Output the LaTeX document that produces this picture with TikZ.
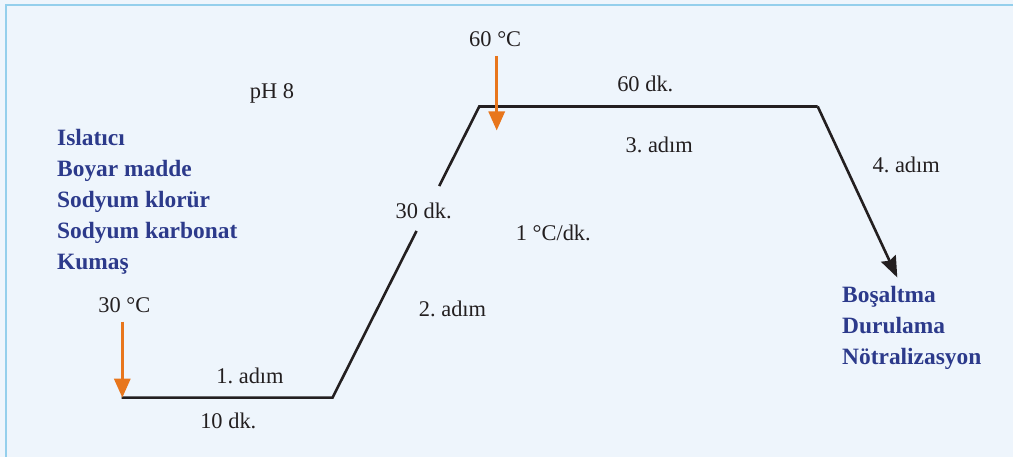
\documentclass[tikz,border=0pt]{standalone}
\usepackage{fontspec}
\setmainfont{Liberation Serif}
\usetikzlibrary{arrows.meta, positioning}
\definecolor{bgblue}{HTML}{EEF5FC}
\definecolor{frameblue}{HTML}{94CFEC}
\definecolor{inkblue}{HTML}{2C3A8B}
\definecolor{heatorange}{HTML}{E8761C}
\definecolor{ink}{HTML}{231F20}
\tikzstyle{txt} = [text=ink, font=\fontsize{22.5}{27}\selectfont, inner sep=0pt, anchor=base]
\tikzstyle{chem} = [text=inkblue, font=\bfseries\fontsize{23.5}{31}\selectfont, align=left, anchor=north west, inner sep=0pt]
\tikzstyle{profile} = [draw=ink, line width=2.6bp]
\tikzstyle{heat} = [draw=heatorange, line width=3bp, -{Triangle[length=19bp,width=16bp]}]
\tikzstyle{drain} = [profile, -{Stealth[length=21bp,width=16bp,inset=2.5bp]}]

\begin{document}
\frenchspacing
\begin{tikzpicture}[x=1bp, y=-1bp]
\useasboundingbox (0,0) rectangle (1013,457);
\fill[bgblue] (0,0) rectangle (1013,457);
\draw[frameblue, line width=2bp] (1013,5.5) -- (5.5,5.5) -- (5.5,457);

% --------- temperature profile ----------
\coordinate (s1) at (121.5,397.7);
\coordinate (e1) at (332.5,397.7);
\coordinate (g1) at (416.5,231);
\coordinate (g2) at (439.2,186);
\coordinate (s3) at (479.3,106.5);
\coordinate (e3) at (817.7,106.5);
\coordinate (e4) at (897.3,277.5);

\draw [profile] (s1) -- (e1) -- (g1);
\draw [profile] (g2) -- (s3) -- (e3);
\draw [drain] (e3) -- (e4);

% --------- dosing ----------
\coordinate (d30) at (122.3,321.7);
\coordinate (d60) at (496.7,56);
\coordinate (d60end) at (496.7,130.5);
\draw [heat] (d30) -- (d30 |- s1);
\draw [heat] (d60) -- (d60end);

% --------- labels ----------
\node (T30)   [txt] at (124.3,312.3) {30 °C};
\node (T60)   [txt] at (495.2,46.7)  {60 °C};
\node (PH)    [txt] at (272,98.3)    {pH 8};
\node (STEP1) [txt] at (250,384)     {1. adım};
\node (TIME1) [txt] at (228.3,428.3) {10 dk.};
\node (STEP2) [txt] at (452.5,316.7) {2. adım};
\node (TIME2) [txt] at (423.7,219)   {30 dk.};
\node (RATE)  [txt] at (553.3,241)   {1 °C/dk.};
\node (TIME3) [txt] at (645.3,91.7)  {60 dk.};
\node (STEP3) [txt] at (659.2,152.3) {3. adım};
\node (STEP4) [txt] at (906.2,172.7) {4. adım};

% --------- chemicals and after-treatment ----------
\node (CHEM) [chem] at (57,129.5) {Islatıcı\\Boyar madde\\Sodyum klorür\\Sodyum karbonat\\Kumaş};
\node (POST) [chem] at (842,286.5) {Boşaltma\\Durulama\\Nötralizasyon};

\end{tikzpicture}
\end{document}
